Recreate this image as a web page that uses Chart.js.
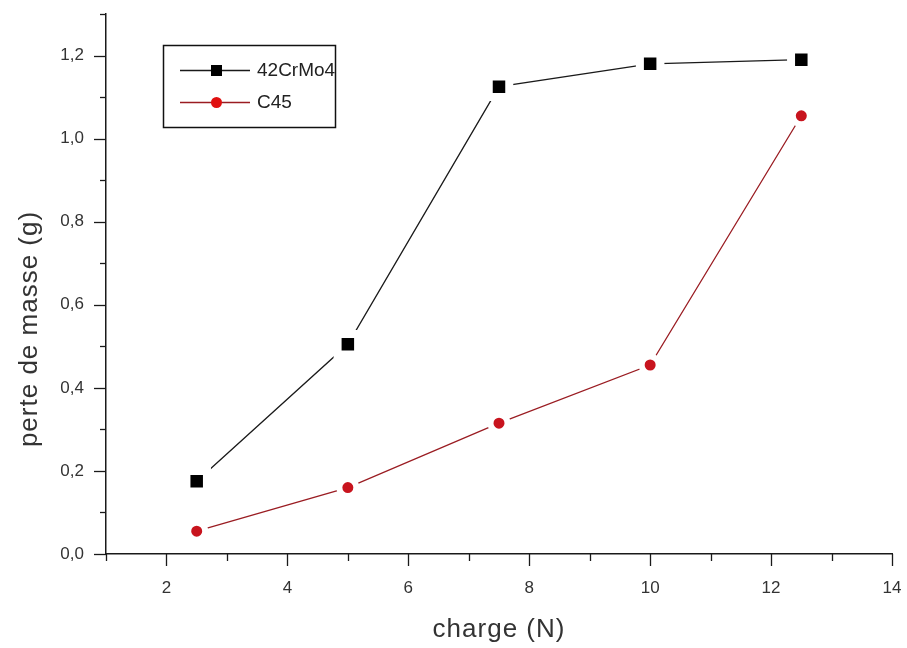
<!DOCTYPE html>
<html>
<head>
<meta charset="utf-8">
<script src="https://cdn.jsdelivr.net/npm/chart.js@4.4.1/dist/chart.umd.min.js"></script>
<style>
  html, body { margin: 0; padding: 0; background: #fff; }
  #wrap { position: relative; width: 907px; height: 648px; }
</style>
</head>
<body>
<div id="wrap"><canvas id="c" width="907" height="648"></canvas></div>
<script>
// ---- data ----
const charge = [2.5, 5, 7.5, 10, 12.5];                 // x values (N)
const perte42CrMo4 = [0.175, 0.505, 1.125, 1.18, 1.19];   // perte de masse (g)
const perteC45 = [0.055, 0.16, 0.315, 0.455, 1.055];
const seriesLabels = ['42CrMo4', 'C45'];
const xTitle = 'charge (N)';
const yTitle = 'perte de masse (g)';

const FONT = "'Liberation Sans', Arial, sans-serif";

function pts(xs, ys) { return xs.map((x, i) => ({ x: x, y: ys[i] })); }

// Origin-style outward ticks (major long, minor short)
const tickPlugin = {
  id: 'originTicks',
  afterDraw(chart) {
    const ctx = chart.ctx;
    ctx.save();
    ctx.strokeStyle = '#1a1a1a';
    ctx.lineWidth = 1.3;
    const xs = chart.scales.x, ys = chart.scales.y;
    xs.ticks.forEach(t => {
      const px = Math.round(xs.getPixelForValue(t.value)) + 0.5;
      const major = Math.round(t.value) % 2 === 0;
      ctx.beginPath();
      ctx.moveTo(px, xs.top);
      ctx.lineTo(px, xs.top + (major ? 12 : 7));
      ctx.stroke();
    });
    ys.ticks.forEach(t => {
      const py = Math.round(ys.getPixelForValue(t.value)) + 0.5;
      const major = Math.round(t.value * 10) % 2 === 0;
      ctx.beginPath();
      ctx.moveTo(ys.right, py);
      ctx.lineTo(ys.right - (major ? 12 : 6), py);
      ctx.stroke();
    });
    ctx.restore();
  }
};

// Axis titles (slightly letter-spaced, as in the Origin export)
const titlePlugin = {
  id: 'axisTitles',
  afterDraw(chart) {
    const ctx = chart.ctx;
    const xs = chart.scales.x;
    ctx.save();
    ctx.fillStyle = '#333';
    ctx.font = '26px ' + FONT;
    ctx.letterSpacing = '1px';
    ctx.textAlign = 'center';
    ctx.textBaseline = 'middle';
    ctx.fillText(xTitle, (xs.left + xs.right) / 2, 630);
    ctx.translate(30, 329);
    ctx.rotate(-Math.PI / 2);
    ctx.fillText(yTitle, 0, 0);
    ctx.restore();
  }
};

// Legend box drawn inside the plot, like Origin
const legendPlugin = {
  id: 'boxLegend',
  afterDraw(chart) {
    const ctx = chart.ctx;
    const bx = 163, by = 45, bw = 172, bh = 82;
    ctx.save();
    ctx.fillStyle = '#fff';
    ctx.fillRect(bx, by, bw, bh);
    ctx.strokeStyle = '#111';
    ctx.lineWidth = 1.5;
    ctx.strokeRect(bx + 0.5, by + 0.5, bw, bh);
    const rows = [70, 102];
    chart.data.datasets.forEach((ds, i) => {
      const y = rows[i];
      ctx.strokeStyle = ds.borderColor;
      ctx.lineWidth = 1.3;
      ctx.beginPath();
      ctx.moveTo(180, y + 0.5);
      ctx.lineTo(250, y + 0.5);
      ctx.stroke();
      ctx.fillStyle = ds.legendMarker;
      if (i === 0) {
        ctx.fillRect(211, y - 5, 11, 11);
      } else {
        ctx.beginPath();
        ctx.arc(216.5, y + 0.5, 5.5, 0, Math.PI * 2);
        ctx.fill();
      }
      ctx.fillStyle = '#222';
      ctx.font = '19px ' + FONT;
      ctx.textBaseline = 'middle';
      ctx.fillText(ds.label, 257, y + 1);
    });
    ctx.restore();
  }
};

const hiddenGrid = (len) => ({
  display: true, drawOnChartArea: false, drawTicks: true,
  tickLength: len, color: 'rgba(0,0,0,0)'
});

new Chart(document.getElementById('c'), {
  type: 'line',
  data: {
    datasets: [
      {
        label: seriesLabels[0],
        data: pts(charge, perte42CrMo4),
        borderColor: '#1a1a1a',
        borderWidth: 1.3,
        pointStyle: 'rect',
        pointRadius: 14.5,
        pointBackgroundColor: '#000',
        pointBorderColor: '#fff',
        pointBorderWidth: 8,
        legendMarker: '#000',
        tension: 0
      },
      {
        label: seriesLabels[1],
        data: pts(charge, perteC45),
        borderColor: '#9a1c22',
        borderWidth: 1.3,
        pointStyle: 'circle',
        pointRadius: 8.5,
        pointBackgroundColor: '#c8141e',
        pointBorderColor: '#fff',
        pointBorderWidth: 6,
        legendMarker: '#e01010',
        tension: 0
      }
    ]
  },
  options: {
    responsive: false,
    animation: false,
    events: [],
    layout: { autoPadding: false, padding: { top: 14, right: 15, left: 0, bottom: 0 } },
    plugins: {
      legend: { display: false },
      tooltip: { enabled: false }
    },
    scales: {
      x: {
        type: 'linear',
        min: 1, max: 14,
        afterFit(s) { s.height = 94; },
        grid: hiddenGrid(21),
        border: { display: true, color: '#1a1a1a', width: 1.5 },
        ticks: {
          stepSize: 1, autoSkip: false, maxRotation: 0,
          padding: 3,
          color: '#333',
          font: { family: FONT, size: 17 },
          callback: v => (Math.round(v) % 2 === 0 ? String(Math.round(v)) : '')
        },
        title: { display: false, text: xTitle }
      },
      y: {
        type: 'linear',
        min: 0, max: 1.3,
        afterFit(s) { s.width = 106; },
        grid: hiddenGrid(20),
        border: { display: true, color: '#1a1a1a', width: 1.5 },
        ticks: {
          stepSize: 0.1, autoSkip: false,
          padding: 2,
          color: '#333',
          font: { family: FONT, size: 17 },
          callback: v => (Math.round(v * 10) % 2 === 0 ? (Math.round(v * 10) / 10).toFixed(1).replace('.', ',') : '')
        },
        title: { display: false, text: yTitle }
      }
    }
  },
  plugins: [tickPlugin, titlePlugin, legendPlugin]
});
</script>
</body>
</html>
